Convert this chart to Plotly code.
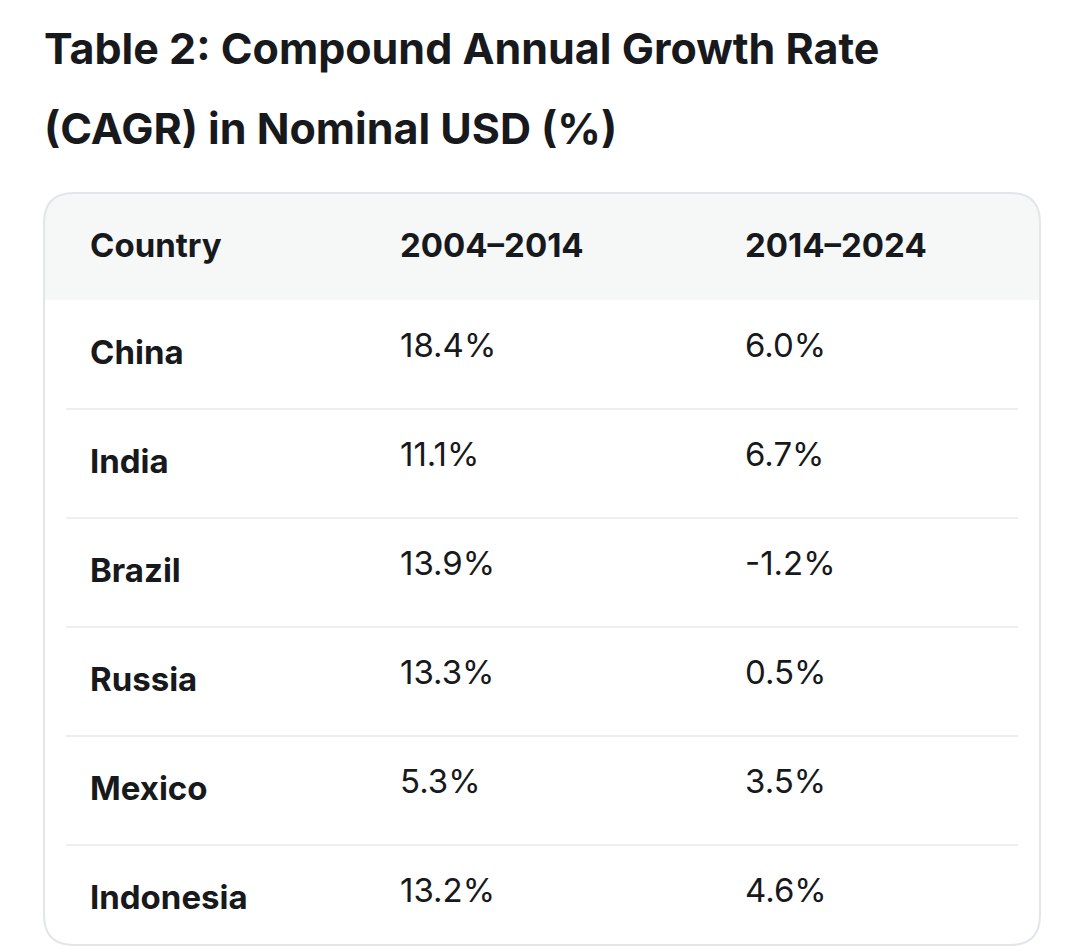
import plotly.graph_objects as go

W, H = 1084, 946

countries = ["China", "India", "Brazil", "Russia", "Mexico", "Indonesia"]
cagr_2004_2014 = ["18.4%", "11.1%", "13.9%", "13.3%", "5.3%", "13.2%"]
cagr_2014_2024 = ["6.0%", "6.7%", "-1.2%", "0.5%", "3.5%", "4.6%"]
headers = ["Country", "2004–2014", "2014–2024"]

TEXT = "#17191c"
BORDER = "#e2e6e9"
HEAD_BG = "#f6f7f7"
SEP = "#eceeef"

OFF = 8  # page body margin


def px(x):
    return (x - OFF) / W


def py(y):
    return 1 - (y - OFF) / H


TOP, HEAD_H, ROW_H = 193, 107, 109
LEFT, RIGHT, BOTTOM = 44, 1040, 945
TEXT_SHIFT = 24

fig = go.Figure()

fig.add_trace(go.Table(
    domain=dict(x=[px(82), px(1040)], y=[0, py(TOP + TEXT_SHIFT)]),
    columnwidth=[310, 345, 303],
    header=dict(
        values=[f"<b>{h}</b>" for h in headers],
        height=HEAD_H,
        fill_color="rgba(0,0,0,0)",
        line_width=0,
        align="left",
        font=dict(family="Inter", size=33, color=TEXT),
    ),
    cells=dict(
        values=[[f"<b>{c}</b>" for c in countries], cagr_2004_2014, cagr_2014_2024],
        height=ROW_H,
        fill_color="rgba(0,0,0,0)",
        line_width=0,
        align="left",
        font=dict(family="Inter", size=33, color=TEXT),
    ),
))

r = 30
path = (f"M {px(LEFT + r)},{py(TOP)} L {px(RIGHT - r)},{py(TOP)} "
        f"Q {px(RIGHT)},{py(TOP)} {px(RIGHT)},{py(TOP + r)} "
        f"L {px(RIGHT)},{py(BOTTOM - r)} Q {px(RIGHT)},{py(BOTTOM)} {px(RIGHT - r)},{py(BOTTOM)} "
        f"L {px(LEFT + r)},{py(BOTTOM)} Q {px(LEFT)},{py(BOTTOM)} {px(LEFT)},{py(BOTTOM - r)} "
        f"L {px(LEFT)},{py(TOP + r)} Q {px(LEFT)},{py(TOP)} {px(LEFT + r)},{py(TOP)} Z")
head_path = (f"M {px(LEFT + r)},{py(TOP)} L {px(RIGHT - r)},{py(TOP)} "
             f"Q {px(RIGHT)},{py(TOP)} {px(RIGHT)},{py(TOP + r)} "
             f"L {px(RIGHT)},{py(TOP + HEAD_H)} L {px(LEFT)},{py(TOP + HEAD_H)} "
             f"L {px(LEFT)},{py(TOP + r)} Q {px(LEFT)},{py(TOP)} {px(LEFT + r)},{py(TOP)} Z")

shapes = [
    dict(type="path", path=head_path, xref="paper", yref="paper",
         fillcolor=HEAD_BG, line_width=0, layer="below"),
    dict(type="path", path=path, xref="paper", yref="paper",
         line=dict(color=BORDER, width=2), layer="below"),
]
for i in range(1, len(countries)):
    y = py(TOP + HEAD_H + i * ROW_H)
    shapes.append(dict(type="line", xref="paper", yref="paper",
                       x0=px(66), x1=px(1018), y0=y, y1=y,
                       line=dict(color=SEP, width=2), layer="below"))

for txt, y in [("Table 2: Compound Annual Growth Rate", 48), ("(CAGR) in Nominal USD (%)", 128)]:
    fig.add_annotation(text=f"<b>{txt}</b>", x=px(42), y=py(y), xref="paper", yref="paper",
                       xanchor="left", yanchor="middle", showarrow=False,
                       font=dict(family="Inter", size=43, color=TEXT))

fig.update_layout(
    width=W, height=H,
    margin=dict(l=0, r=0, t=0, b=0),
    paper_bgcolor="white", plot_bgcolor="white",
    shapes=shapes,
)

fig.write_html("out.html")
